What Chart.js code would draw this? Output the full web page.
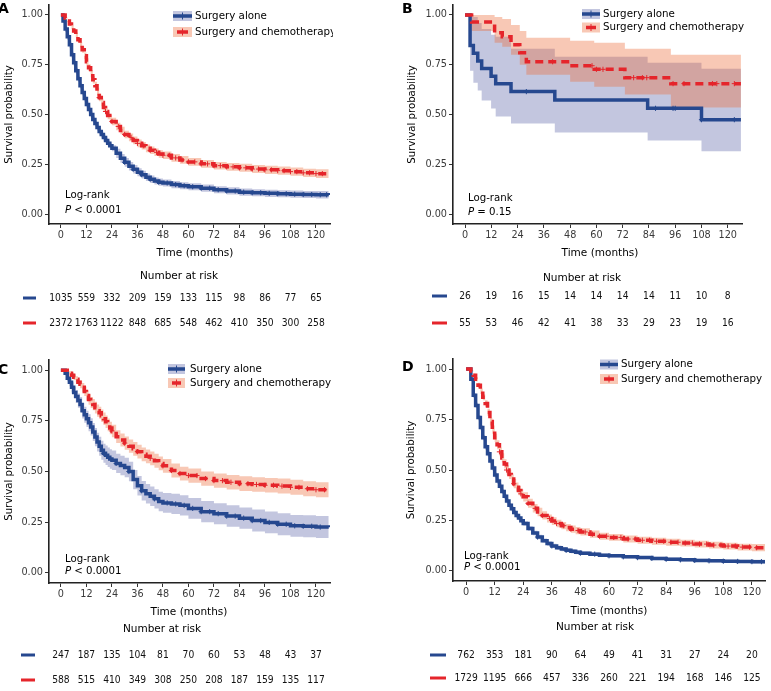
<!DOCTYPE html>
<html><head><meta charset="utf-8">
<script src="https://cdn.jsdelivr.net/npm/chart.js@4.4.1/dist/chart.umd.min.js"></script>
<style>
html,body{margin:0;padding:0;background:#fff;}
body{width:771px;height:691px;position:relative;overflow:hidden;}
canvas{position:absolute;}
</style></head><body>
<canvas id="cA" width="385" height="345" style="left:0px;top:0px"></canvas>
<canvas id="cB" width="386" height="345" style="left:385px;top:0px"></canvas>
<canvas id="cC" width="385" height="346" style="left:0px;top:345px"></canvas>
<canvas id="cD" width="386" height="346" style="left:385px;top:345px"></canvas>
<script>
// ---------- data ----------
const xTicks = [0,12,24,36,48,60,72,84,96,108,120];
const yTicks = [0,0.25,0.5,0.75,1];
const seriesLabels = ['Surgery alone','Surgery and chemotherapy'];

// shared month grid for panels A, C, D
const monthsGrid = [0,1,2,3,4,5,6,7,8,9,10,11,12,13,14,15,16,17,18,19,20,21,22,23,24,26,28,30,32,34,36,38,40,42,44,46,48,52,56,60,66,72,78,84,90,96,102,108,114,120,126];

// Panel A
const aAloneS  = [1,0.97,0.93,0.89,0.85,0.80,0.76,0.72,0.68,0.645,0.61,0.58,0.55,0.525,0.50,0.475,0.455,0.435,0.415,0.40,0.385,0.37,0.355,0.343,0.33, 0.305,0.28,0.26,0.24,0.225,0.21,0.198,0.185,0.175,0.166,0.16,0.156, 0.148,0.142,0.137, 0.13,0.122,0.116,0.11,0.107,0.104,0.102,0.1,0.098,0.097,0.096];
const aAloneLo = [1,0.96,0.915,0.875,0.835,0.785,0.745,0.705,0.665,0.63,0.595,0.565,0.535,0.51,0.485,0.46,0.44,0.42,0.40,0.385,0.37,0.355,0.34,0.328,0.315, 0.282,0.258,0.238,0.219,0.204,0.19,0.178,0.166,0.156,0.148,0.142,0.138, 0.13,0.124,0.119, 0.112,0.104,0.098,0.092,0.089,0.086,0.084,0.082,0.08,0.078,0.077];
const aAloneHi = [1,0.98,0.945,0.905,0.865,0.815,0.775,0.735,0.695,0.66,0.625,0.595,0.565,0.54,0.515,0.49,0.47,0.45,0.43,0.415,0.40,0.385,0.37,0.358,0.345, 0.328,0.302,0.282,0.261,0.246,0.23,0.218,0.204,0.194,0.184,0.178,0.174, 0.166,0.16,0.155, 0.148,0.14,0.134,0.128,0.125,0.122,0.12,0.118,0.116,0.116,0.115];
const aChemoS  = [1,1,0.985,0.97,0.955,0.94,0.92,0.90,0.875,0.85,0.825,0.795,0.765,0.735,0.705,0.675,0.645,0.615,0.585,0.56,0.535,0.515,0.495,0.48,0.465, 0.44,0.42,0.40,0.385,0.37,0.355,0.343,0.33,0.32,0.31,0.302,0.295, 0.282,0.272,0.262, 0.252,0.243,0.237,0.232,0.226,0.222,0.218,0.213,0.207,0.203,0.2];
const aChemoLo = [1,0.995,0.98,0.963,0.946,0.93,0.909,0.888,0.862,0.836,0.81,0.779,0.748,0.717,0.687,0.656,0.626,0.596,0.566,0.541,0.516,0.496,0.476,0.461,0.446, 0.421,0.401,0.381,0.366,0.351,0.336,0.324,0.311,0.301,0.291,0.283,0.276, 0.263,0.253,0.243, 0.233,0.224,0.217,0.212,0.206,0.201,0.197,0.192,0.186,0.181,0.178];
const aChemoHi = [1,1,0.99,0.977,0.964,0.95,0.931,0.912,0.888,0.864,0.84,0.811,0.782,0.753,0.723,0.694,0.664,0.634,0.604,0.579,0.554,0.534,0.514,0.499,0.484, 0.459,0.439,0.419,0.404,0.389,0.374,0.362,0.349,0.339,0.329,0.321,0.314, 0.301,0.291,0.281, 0.271,0.262,0.257,0.252,0.246,0.243,0.239,0.234,0.228,0.225,0.222];
const aAloneCens = [30,34,38,42,46,50,54,58,62,66,70,74,78,82,86,90,94,98,102,106,110,114,118,122,125];
const aChemoCens = [18,21,24,27,30,33,36,39,42,45,48,51,54,57,60,63,66,69,72,75,78,81,84,87,90,93,96,99,102,105,108,111,114,117,120,123];
const riskAAlone = [1035,559,332,209,159,133,115,98,86,77,65];
const riskAChemo = [2372,1763,1122,848,685,548,462,410,350,300,258];

// Panel B
const bAloneT  = [0,2.3,3.8,5.8,7.6,11.9,14,21,41,83.4,108,126];
const bAloneS  = [1,0.846,0.808,0.769,0.731,0.692,0.654,0.615,0.573,0.531,0.474,0.474];
const bAloneLo = [1,0.72,0.66,0.62,0.57,0.53,0.49,0.455,0.41,0.37,0.315,0.315];
const bAloneHi = [1,1,0.99,0.96,0.93,0.9,0.89,0.83,0.79,0.76,0.73,0.73];
const bChemoT  = [0,3,13.5,17,21,25,28,48,59,73,94,126];
const bChemoS  = [1,0.965,0.91,0.89,0.85,0.81,0.765,0.745,0.727,0.685,0.655,0.655];
const bChemoLo = [1,0.92,0.86,0.84,0.80,0.75,0.70,0.665,0.64,0.60,0.535,0.535];
const bChemoHi = [1,1,0.99,0.98,0.95,0.92,0.885,0.87,0.86,0.83,0.80,0.80];
const bAloneCens = [28,87,95,96,108,123];
const bChemoCens = [40,58,60,63,77,81,83,95,100,113,115,123];
const riskBAlone = [26,19,16,15,14,14,14,14,11,10,8];
const riskBChemo = [55,53,46,42,41,38,33,29,23,19,16];

// Panel C
const cAloneS  = [1,1,0.985,0.96,0.94,0.915,0.89,0.87,0.85,0.83,0.80,0.78,0.76,0.74,0.72,0.695,0.67,0.645,0.625,0.605,0.59,0.58,0.57,0.562,0.555, 0.54,0.53,0.52,0.50,0.46,0.43,0.405,0.39,0.378,0.365,0.352,0.345, 0.34,0.333,0.318, 0.302,0.292,0.28,0.27,0.258,0.249,0.24,0.232,0.23,0.226,0.225];
const cAloneLo = [1,1,0.975,0.945,0.92,0.89,0.862,0.838,0.815,0.793,0.762,0.74,0.72,0.698,0.677,0.651,0.625,0.599,0.578,0.558,0.543,0.532,0.522,0.514,0.507, 0.492,0.482,0.472,0.452,0.412,0.382,0.357,0.342,0.33,0.317,0.304,0.296, 0.29,0.283,0.267, 0.25,0.24,0.227,0.217,0.204,0.195,0.186,0.178,0.176,0.172,0.17];
const cAloneHi = [1,1,0.995,0.975,0.96,0.94,0.918,0.902,0.885,0.867,0.838,0.82,0.80,0.782,0.763,0.739,0.715,0.691,0.672,0.652,0.637,0.628,0.618,0.61,0.603, 0.588,0.578,0.568,0.548,0.508,0.478,0.453,0.438,0.426,0.413,0.4,0.394, 0.39,0.383,0.369, 0.354,0.344,0.333,0.323,0.312,0.303,0.294,0.286,0.284,0.28,0.28];
const cChemoS  = [1,1,1,0.99,0.985,0.975,0.965,0.955,0.94,0.93,0.915,0.895,0.875,0.855,0.84,0.83,0.815,0.80,0.79,0.775,0.76,0.745,0.73,0.715,0.70, 0.672,0.655,0.64,0.625,0.612,0.598,0.585,0.575,0.565,0.553,0.54,0.528, 0.505,0.49,0.48, 0.465,0.455,0.447,0.44,0.436,0.432,0.428,0.422,0.415,0.41,0.405];
const cChemoLo = [1,1,1,0.982,0.975,0.963,0.951,0.94,0.923,0.911,0.894,0.872,0.85,0.829,0.813,0.802,0.786,0.77,0.76,0.744,0.729,0.714,0.699,0.684,0.669, 0.64,0.623,0.607,0.592,0.578,0.564,0.551,0.541,0.531,0.519,0.506,0.494, 0.471,0.456,0.445, 0.43,0.42,0.411,0.404,0.4,0.396,0.391,0.385,0.378,0.373,0.368];
const cChemoHi = [1,1,1,0.997,0.995,0.987,0.979,0.97,0.957,0.949,0.936,0.918,0.9,0.881,0.867,0.858,0.844,0.83,0.82,0.806,0.791,0.776,0.761,0.746,0.731, 0.704,0.687,0.673,0.658,0.646,0.632,0.619,0.609,0.599,0.587,0.574,0.562, 0.539,0.524,0.515, 0.5,0.49,0.483,0.476,0.472,0.468,0.465,0.459,0.452,0.447,0.442];
const cAloneCens = [20,26,32,38,44,50,54,58,62,66,70,74,78,82,86,90,94,98,102,106,110,114,118,122];
const cChemoCens = [24,30,36,42,48,52,56,60,64,68,72,76,80,84,88,92,96,100,104,108,112,116,120,124];
const riskCAlone = [247,187,135,104,81,70,60,53,48,43,37];
const riskCChemo = [588,515,410,349,308,250,208,187,159,135,117];

// Panel D
const dAloneS  = [1,1,0.95,0.87,0.82,0.76,0.71,0.66,0.615,0.58,0.545,0.51,0.475,0.445,0.42,0.393,0.37,0.346,0.325,0.308,0.29,0.275,0.262,0.248,0.235, 0.21,0.188,0.168,0.15,0.136,0.124,0.115,0.108,0.102,0.097,0.092,0.088, 0.083,0.078,0.075, 0.07,0.066,0.062,0.058,0.055,0.052,0.05,0.048,0.047,0.046,0.045];
const dAloneLo = [1,1,0.94,0.858,0.807,0.747,0.697,0.647,0.602,0.567,0.532,0.497,0.462,0.432,0.407,0.381,0.358,0.334,0.313,0.296,0.278,0.264,0.251,0.237,0.224, 0.199,0.177,0.157,0.139,0.125,0.114,0.105,0.098,0.092,0.087,0.083,0.079, 0.074,0.07,0.067, 0.062,0.058,0.054,0.05,0.047,0.044,0.042,0.04,0.039,0.037,0.036];
const dAloneHi = [1,1,0.96,0.882,0.833,0.773,0.723,0.673,0.628,0.593,0.558,0.523,0.488,0.458,0.433,0.405,0.382,0.358,0.337,0.32,0.302,0.286,0.273,0.259,0.246, 0.221,0.199,0.179,0.161,0.147,0.135,0.126,0.118,0.112,0.107,0.101,0.097, 0.092,0.086,0.083, 0.078,0.074,0.07,0.066,0.063,0.06,0.058,0.056,0.055,0.055,0.054];
const dChemoS  = [1,1,0.99,0.97,0.95,0.92,0.89,0.86,0.83,0.785,0.74,0.70,0.66,0.625,0.59,0.56,0.53,0.50,0.478,0.455,0.432,0.415,0.398,0.382,0.367, 0.335,0.31,0.292,0.275,0.26,0.247,0.235,0.224,0.215,0.207,0.2,0.193, 0.182,0.172,0.166, 0.158,0.152,0.147,0.142,0.138,0.133,0.128,0.123,0.118,0.115,0.112];
const dChemoLo = [1,1,0.985,0.962,0.94,0.908,0.876,0.845,0.814,0.767,0.721,0.68,0.639,0.603,0.568,0.537,0.507,0.477,0.455,0.432,0.409,0.392,0.375,0.359,0.344, 0.313,0.289,0.271,0.255,0.24,0.228,0.216,0.206,0.197,0.189,0.182,0.175, 0.164,0.155,0.149, 0.141,0.135,0.13,0.125,0.121,0.116,0.111,0.106,0.101,0.097,0.094];
const dChemoHi = [1,1,0.995,0.978,0.96,0.932,0.904,0.875,0.846,0.803,0.759,0.72,0.681,0.647,0.612,0.583,0.553,0.523,0.501,0.478,0.455,0.438,0.421,0.405,0.39, 0.357,0.331,0.313,0.295,0.28,0.266,0.254,0.242,0.233,0.225,0.218,0.211, 0.2,0.189,0.183, 0.175,0.169,0.164,0.159,0.155,0.15,0.145,0.14,0.135,0.133,0.13];
const dAloneCens = [30,36,42,48,54,60,66,72,78,84,90,96,102,108,114,120,124];
const dChemoCens = [14,17,20,23,26,29,32,35,38,41,44,47,50,53,56,59,62,65,68,71,74,77,80,83,86,89,92,95,98,101,104,107,110,113,116,119,122];
const riskDAlone = [762,353,181,90,64,49,41,31,27,24,20];
const riskDChemo = [1729,1195,666,457,336,260,221,194,168,146,125];

// ---------- styles & layout ----------
const FONT = '"DejaVu Sans", Verdana, sans-serif';
const NUMFONT = '"DejaVu Sans Condensed", "DejaVu Sans", sans-serif';
const BLUE = '#26488f', RED = '#e5252b';
const BLUE_BAND = 'rgba(40,50,140,0.28)', RED_BAND = 'rgba(236,110,60,0.38)';

const panels = [
  {id:'cA', ox:0, oy:0, w:385, h:345, area:{left:49, top:2, right:330, bottom:224}, xMin:-5.6, xMax:126.6,
   letter:'A', letterPos:[-2,9], yTitleX:9, xTitle:[195,253], nr:[179,276], dash:[23,36], rowY:[298,323],
   lr:[65,195,210], pText:'< 0.0001', legend:{x0:173,x1:192,tx:195,y:[16,32],clip:333},
   aT:monthsGrid, aS:aAloneS, aLo:aAloneLo, aHi:aAloneHi, aC:aAloneCens,
   cT:monthsGrid, cS:aChemoS, cLo:aChemoLo, cHi:aChemoHi, cC:aChemoCens, rA:riskAAlone, rC:riskAChemo},
  {id:'cB', ox:385, oy:0, w:386, h:345, area:{left:453, top:2, right:742, bottom:224}, xMin:-5.5, xMax:126.5,
   letter:'B', letterPos:[402,9], yTitleX:412, xTitle:[600,253], nr:[582,278], dash:[432,447], rowY:[296,323],
   lr:[468,198,212], pText:'= 0.15', legend:{x0:582,x1:600,tx:603,y:[14,27.5]},
   aT:bAloneT, aS:bAloneS, aLo:bAloneLo, aHi:bAloneHi, aC:bAloneCens,
   cT:bChemoT, cS:bChemoS, cLo:bChemoLo, cHi:bChemoHi, cC:bChemoCens, rA:riskBAlone, rC:riskBChemo},
  {id:'cC', ox:0, oy:345, w:385, h:346, area:{left:49, top:360, right:330, bottom:583}, xMin:-5.6, xMax:126.6,
   letter:'C', letterPos:[-2,370], yTitleX:9, xTitle:[189,612], nr:[162,629], dash:[21,35], rowY:[655,680],
   lr:[65,559,571], pText:'< 0.0001', legend:{x0:168,x1:185,tx:190,y:[369,383]},
   aT:monthsGrid, aS:cAloneS, aLo:cAloneLo, aHi:cAloneHi, aC:cAloneCens,
   cT:monthsGrid, cS:cChemoS, cLo:cChemoLo, cHi:cChemoHi, cC:cChemoCens, rA:riskCAlone, rC:riskCChemo},
  {id:'cD', ox:385, oy:345, w:386, h:346, area:{left:453, top:359, right:765, bottom:581}, xMin:-5.5, xMax:125.5,
   letter:'D', letterPos:[402,367], yTitleX:411, xTitle:[609,611], nr:[595,627], dash:[430,446], rowY:[655,678],
   lr:[464,556,567], pText:'< 0.0001', legend:{x0:600,x1:618,tx:621,y:[364.5,379]},
   aT:monthsGrid, aS:dAloneS, aLo:dAloneLo, aHi:dAloneHi, aC:dAloneCens,
   cT:monthsGrid, cS:dChemoS, cLo:dChemoLo, cHi:dChemoHi, cC:dChemoCens, rA:riskDAlone, rC:riskDChemo}
];

function pts(t, v){ return t.map((x,i)=>({x:x, y:v[i]})); }
function stepAt(t, v, x){ let y=v[0]; for(let i=0;i<t.length;i++){ if(t[i]<=x) y=v[i]; else break; } return y; }
function censorPts(t, v, c){ return c.map(x=>({x:x, y:stepAt(t,v,x)})); }

function drawNumber(ctx, s, x, y){
  // narrow numerals like the reference (about 5.8px per digit)
  const w = ctx.measureText(s).width;
  const target = s.length * 5.85;
  const sx = Math.min(1, target / w);
  ctx.save();
  ctx.translate(x, y);
  ctx.scale(sx, 1);
  ctx.fillText(s, 0, 0);
  ctx.restore();
}

function decorate(chart, P){
  const ctx = chart.ctx, xs = chart.scales.x, ca = chart.chartArea;
  const ox = P.ox, oy = P.oy;
  ctx.save();
  ctx.textBaseline = 'middle';
  ctx.fillStyle = '#000';
  // panel letter
  ctx.font = 'bold 14px ' + FONT; ctx.textAlign = 'left';
  ctx.fillText(P.letter, P.letterPos[0]-ox, P.letterPos[1]-oy);
  // y title
  ctx.save();
  ctx.translate(P.yTitleX-ox, (ca.top+ca.bottom)/2);
  ctx.rotate(-Math.PI/2);
  ctx.font = '10.2px ' + FONT; ctx.textAlign = 'center';
  ctx.fillText('Survival probability', 0, 0);
  ctx.restore();
  // x title and risk header
  ctx.font = '10.5px ' + FONT; ctx.textAlign = 'center';
  ctx.fillText('Time (months)', P.xTitle[0]-ox, P.xTitle[1]-oy);
  ctx.fillText('Number at risk', P.nr[0]-ox, P.nr[1]-oy);
  // risk rows
  const rows = [{c:BLUE, v:P.rA, y:P.rowY[0]}, {c:RED, v:P.rC, y:P.rowY[1]}];
  rows.forEach(r=>{
    ctx.strokeStyle = r.c; ctx.lineWidth = 3; ctx.setLineDash([]);
    ctx.beginPath(); ctx.moveTo(P.dash[0]-ox, r.y-oy); ctx.lineTo(P.dash[1]-ox, r.y-oy); ctx.stroke();
    ctx.fillStyle = '#111'; ctx.font = '10.2px ' + NUMFONT; ctx.textAlign = 'center';
    r.v.forEach((n,i)=> drawNumber(ctx, String(n), xs.getPixelForValue(xTicks[i]), r.y-oy));
  });
  // log-rank
  ctx.fillStyle = '#000'; ctx.textAlign = 'left';
  ctx.font = '10.2px ' + FONT;
  ctx.fillText('Log-rank', P.lr[0]-ox, P.lr[1]-oy);
  ctx.font = 'italic 10.2px ' + FONT;
  ctx.fillText('P', P.lr[0]-ox, P.lr[2]-oy);
  const pw = ctx.measureText('P').width;
  ctx.font = '10.2px ' + FONT;
  ctx.fillText(P.pText, P.lr[0]-ox+pw+3, P.lr[2]-oy);
  // legend
  const lg = P.legend;
  ctx.save();
  if (lg.clip) { ctx.beginPath(); ctx.rect(0,0,lg.clip-ox,chart.height); ctx.clip(); }
  [{c:BLUE, band:BLUE_BAND, dash:false},{c:RED, band:RED_BAND, dash:true}].forEach((s,i)=>{
    const y = lg.y[i]-oy, x0 = lg.x0-ox, x1 = lg.x1-ox;
    ctx.fillStyle = s.band; ctx.fillRect(x0, y-5, x1-x0, 10);
    ctx.strokeStyle = s.c; ctx.lineWidth = 3.5; ctx.setLineDash([]);
    ctx.beginPath();
    if (s.dash) { ctx.moveTo(x0+4, y); ctx.lineTo(x1-4, y); } else { ctx.moveTo(x0, y); ctx.lineTo(x1, y); }
    ctx.stroke();
    ctx.lineWidth = 1; ctx.beginPath(); ctx.moveTo((x0+x1)/2, y-3.5); ctx.lineTo((x0+x1)/2, y+3.5); ctx.stroke();
    ctx.fillStyle = '#000'; ctx.font = '10.3px ' + FONT; ctx.textAlign = 'left';
    ctx.fillText(seriesLabels[i], lg.tx-ox, y);
  });
  ctx.restore();
  ctx.restore();
}

panels.forEach((P, k)=>{
  const yw = P.area.left - P.ox;
  const xh = 30;
  const padTop = P.area.top - P.oy;
  const padRight = P.ox + P.w - P.area.right;
  const padBottom = (P.oy + P.h) - P.area.bottom - xh;
  const lineBase = {stepped:true, pointRadius:0, fill:false, borderWidth:3.5};
  const bandBase = {stepped:true, pointRadius:0, borderWidth:0, borderColor:'rgba(0,0,0,0)'};
  const datasets = [
    {label:'chemoCens', data:censorPts(P.cT,P.cS,P.cC), showLine:false, pointStyle:'cross', pointRadius:2.6, pointBorderWidth:1, pointBorderColor:RED, borderColor:RED, order:1},
    {label:'aloneCens', data:censorPts(P.aT,P.aS,P.aC), showLine:false, pointStyle:'cross', pointRadius:2.6, pointBorderWidth:1, pointBorderColor:BLUE, borderColor:BLUE, order:2},
    Object.assign({label:seriesLabels[1], data:pts(P.cT,P.cS), borderColor:RED, borderDash:[8,5], order:3}, lineBase),
    Object.assign({label:seriesLabels[0], data:pts(P.aT,P.aS), borderColor:BLUE, order:4}, lineBase),
    Object.assign({label:'chemoLo', data:pts(P.cT,P.cLo), fill:false, order:9}, bandBase),
    Object.assign({label:'chemoHi', data:pts(P.cT,P.cHi), fill:'-1', backgroundColor:RED_BAND, order:9}, bandBase),
    Object.assign({label:'aloneLo', data:pts(P.aT,P.aLo), fill:false, order:10}, bandBase),
    Object.assign({label:'aloneHi', data:pts(P.aT,P.aHi), fill:'-1', backgroundColor:BLUE_BAND, order:10}, bandBase)
  ];
  new Chart(document.getElementById(P.id), {
    type:'line',
    data:{datasets:datasets},
    options:{
      responsive:false, animation:false, devicePixelRatio:1, events:[],
      layout:{padding:{left:0, top:padTop, right:padRight, bottom:padBottom}},
      plugins:{legend:{display:false}, tooltip:{enabled:false}, filler:{drawTime:'beforeDatasetsDraw'}},
      scales:{
        x:{type:'linear', min:P.xMin, max:P.xMax,
           afterBuildTicks:s=>{ s.ticks = xTicks.map(v=>({value:v})); },
           afterFit:s=>{ s.height = xh; s.paddingLeft = 0; s.paddingRight = 0; },
           grid:{drawOnChartArea:false, drawTicks:true, tickLength:4, color:'#333', lineWidth:1},
           border:{display:true, color:'#222', width:1.6},
           ticks:{padding:2, color:'#3a3a3a', font:{family:FONT, size:9.7}, maxRotation:0, autoSkip:false}},
        y:{type:'linear', min:-0.05, max:1.05,
           afterBuildTicks:s=>{ s.ticks = yTicks.map(v=>({value:v})); },
           afterFit:s=>{ s.width = yw; s.paddingTop = 0; s.paddingBottom = 0; },
           grid:{drawOnChartArea:false, drawTicks:true, tickLength:4, color:'#333', lineWidth:1},
           border:{display:true, color:'#222', width:1.6},
           ticks:{padding:2, color:'#3a3a3a', font:{family:FONT, size:9.7}, callback:v=>Number(v).toFixed(2)}}
      }
    },
    plugins:[{id:'kmDecor'+k, afterDraw:(chart)=>decorate(chart,P)}]
  });
});
</script>
</body></html>
